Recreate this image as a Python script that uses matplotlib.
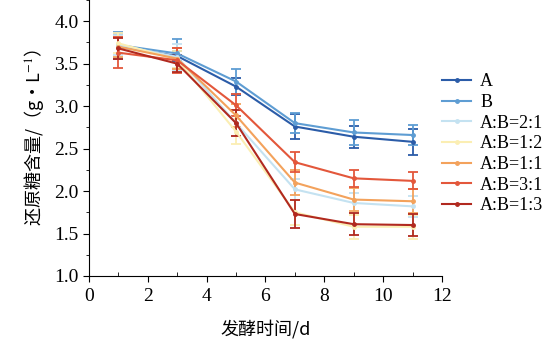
import matplotlib
matplotlib.use("Agg")
import matplotlib.pyplot as plt
from matplotlib.lines import Line2D
from matplotlib.ticker import MultipleLocator

plt.rcParams['font.family'] = ['Liberation Serif', 'Noto Sans CJK SC']
plt.rcParams['mathtext.fontset'] = 'stix'

# fermentation time (d)
days = [1, 3, 5, 7, 9, 11]

labels = ["A", "B", "A:B=2:1", "A:B=1:2", "A:B=1:1", "A:B=3:1", "A:B=1:3"]
colors = ["#2b5ca8", "#5e9dd3", "#c4e2f1", "#fbeeb3", "#f3a25c", "#e3573b", "#b1291f"]

# reducing sugar content (g/L)
val_a = [3.70, 3.59, 3.23, 2.76, 2.64, 2.58]
val_b = [3.72, 3.62, 3.29, 2.80, 2.69, 2.66]
val_21 = [3.72, 3.58, 2.80, 2.02, 1.86, 1.82]
val_12 = [3.74, 3.55, 2.70, 1.75, 1.58, 1.58]
val_11 = [3.70, 3.56, 2.89, 2.10, 1.90, 1.88]
val_31 = [3.63, 3.54, 3.01, 2.34, 2.15, 2.12]
val_13 = [3.68, 3.50, 2.80, 1.73, 1.61, 1.60]

err_a = [0.15, 0.06, 0.10, 0.15, 0.13, 0.15]
err_b = [0.15, 0.17, 0.15, 0.12, 0.15, 0.12]
err_21 = [0.12, 0.15, 0.15, 0.12, 0.12, 0.12]
err_12 = [0.12, 0.10, 0.15, 0.15, 0.14, 0.14]
err_11 = [0.12, 0.12, 0.13, 0.15, 0.14, 0.14]
err_31 = [0.18, 0.15, 0.13, 0.12, 0.10, 0.10]
err_13 = [0.12, 0.10, 0.15, 0.16, 0.13, 0.13]

series = [val_a, val_b, val_21, val_12, val_11, val_31, val_13]
errors = [err_a, err_b, err_21, err_12, err_11, err_31, err_13]

xticks = [0, 2, 4, 6, 8, 10, 12]
yticks = [1.0, 1.5, 2.0, 2.5, 3.0, 3.5, 4.0]

fig = plt.figure(figsize=(5.58, 3.51), dpi=100)
ax = fig.add_axes([0.1595, 0.2137, 0.6325, 0.7863])

handles = []
for lab, col, ys, es in zip(labels, colors, series, errors):
    ax.errorbar(days, ys, yerr=es, color=col, ecolor=col, lw=1.5, elinewidth=1.3,
                capsize=3.5, capthick=1.3, marker="o", markersize=2.5)
    # legend shows line + marker only, no error bar
    handles.append(Line2D([], [], color=col, lw=1.5, marker="o", markersize=2.5, label=lab))

ax.set_xlim(0, 12)
ax.set_ylim(1.0, 4.25)
ax.set_xticks(xticks)
ax.set_xticklabels([str(t) for t in xticks], family="Liberation Serif")
ax.set_yticks(yticks)
ax.set_yticklabels([f"{t:.1f}" for t in yticks], family="Liberation Serif")
ax.xaxis.set_minor_locator(MultipleLocator(1))
ax.yaxis.set_minor_locator(MultipleLocator(0.25))
ax.tick_params(axis="x", which="major", direction="out", length=4, labelsize=14, pad=5)
ax.tick_params(axis="x", which="minor", direction="in", length=3)
ax.tick_params(axis="y", which="major", direction="out", length=4, labelsize=14)
ax.tick_params(axis="y", which="minor", direction="out", length=2.5)
ax.spines[["top", "right"]].set_visible(False)

ax.set_xlabel("发酵时间/d", fontsize=13, family=["Noto Sans CJK SC", "Liberation Serif"], labelpad=10)
ax.set_ylabel("还原糖含量/（g·L$^{-1}$）", fontsize=13,
              family=["Noto Sans CJK SC", "Liberation Serif"], labelpad=6)

ax.legend(handles=handles, loc="upper left", bbox_to_anchor=(0.98, 0.76), frameon=False,
          fontsize=13, handlelength=1.6, handletextpad=0.5, labelspacing=0.2, borderaxespad=0)

fig.savefig("out.png", dpi=100)
